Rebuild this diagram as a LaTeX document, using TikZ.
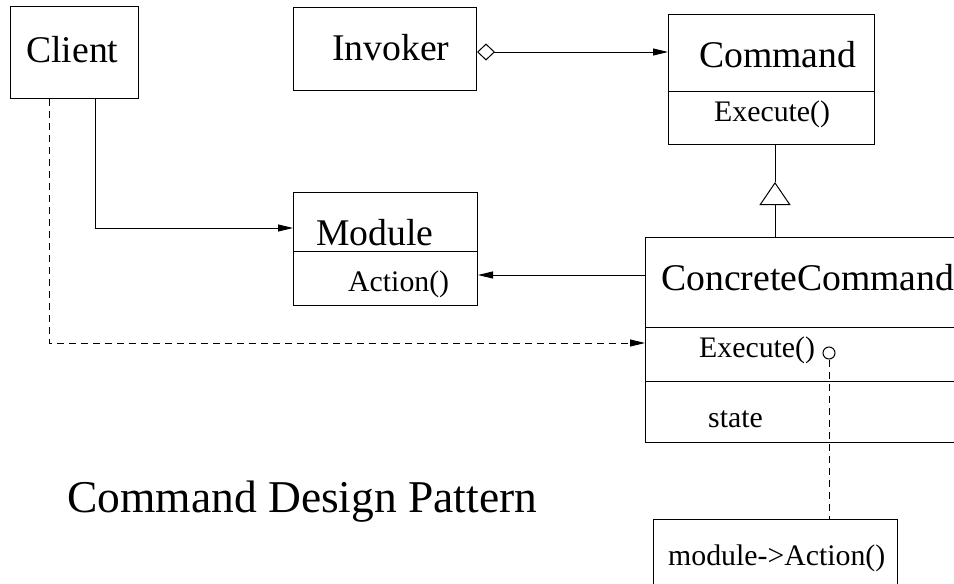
\documentclass[tikz,border=0pt]{standalone}
\usepackage{fontspec}
\setmainfont{Liberation Serif}
\usetikzlibrary{arrows.meta}
\tikzset{
  box/.style={draw, rectangle, inner sep=0pt, anchor=north west, line width=1pt},
  conn/.style={line width=1pt},
  dashconn/.style={line width=1pt, dash pattern=on 7pt off 5pt},
  head/.style={-{Triangle[length=15pt,width=7pt]}},
  big/.style={anchor=base west, inner sep=0pt, font=\fontsize{37.7}{40}\selectfont},
  small/.style={anchor=base west, inner sep=0pt, font=\fontsize{29.8}{32}\selectfont},
  caption/.style={anchor=base west, inner sep=0pt, font=\fontsize{45.5}{48}\selectfont},
}
\begin{document}
\begin{tikzpicture}[x=1pt,y=-1pt]
\clip (0,0) rectangle (954,584);
\fill[white] (0,0) rectangle (954,584);

% class boxes
\node[box, minimum width=128pt, minimum height=92pt] (client) at (10,6) {};
\node[box, minimum width=183pt, minimum height=83pt] (invoker) at (293,7) {};
\node[box, minimum width=206pt, minimum height=77pt] (cmdhead) at (668,14) {};
\node[box, minimum width=206pt, minimum height=53pt] (cmdbody) at (668,91) {};
\node[box, minimum width=184pt, minimum height=59pt] (modhead) at (293,192) {};
\node[box, minimum width=184pt, minimum height=54pt] (modbody) at (293,251) {};
\node[box, minimum width=345pt, minimum height=90pt] (cchead) at (645,237) {};
\node[box, minimum width=345pt, minimum height=54pt] (ccexec) at (645,327) {};
\node[box, minimum width=345pt, minimum height=61pt] (ccstate) at (645,381) {};
\node[box, minimum width=244pt, minimum height=81pt] (note) at (653,519) {};

% texts
\node[big] (tclient) at (26,62) {Client};
\node[big] (tinvoker) at (332,60) {Invoker};
\node[big] (tcmd) at (699,67) {Command};
\node[small] (tcmdexec) at (714,121) {Execute()};
\node[big] (tmod) at (316,245) {Module};
\node[small] (tmodact) at (348,291) {Action()};
\node[big] (tcc) at (661,290) {ConcreteCommand};
\node[small] (tccexec) at (699,357) {Execute()};
\node[small] (tstate) at (708,427) {state};
\node[small] (tnote) at (668,565) {module->Action()};
\node[caption] (title) at (67,512) {Command Design Pattern};

% aggregation Invoker -> Command
\coordinate (ia) at (0,52);
\draw[conn, {Diamond[open,length=18pt,width=17pt]}-{Triangle[length=15pt,width=7pt]}]
  (invoker.east |- ia) -- (cmdhead.west |- ia);

% Client -> Module
\coordinate (cm) at (95,228);
\draw[conn, head] (client.south -| cm) |- (modhead.west |- cm);

% ConcreteCommand -> Action()
\coordinate (ca) at (0,275);
\draw[conn, head] (cchead.west |- ca) -- (modbody.east |- ca);

% Client creates ConcreteCommand
\coordinate (cd) at (49,343);
\draw[dashconn, head] (client.south -| cd) |- (ccexec.west |- cd);

% inheritance ConcreteCommand -> Command
\coordinate (tip) at (775,182);
\draw[conn, -{Triangle[open,length=23pt,width=31pt]}] (cchead.north -| tip) -- (tip);
\draw[conn] (tip) -- (cmdbody.south -| tip);

% implementation note
\node[circle, draw, line width=1pt, minimum size=12pt, inner sep=0pt] (hook) at (829,353) {};
\draw[dashconn] (hook.south) -- (note.north -| hook);
\end{tikzpicture}
\end{document}
